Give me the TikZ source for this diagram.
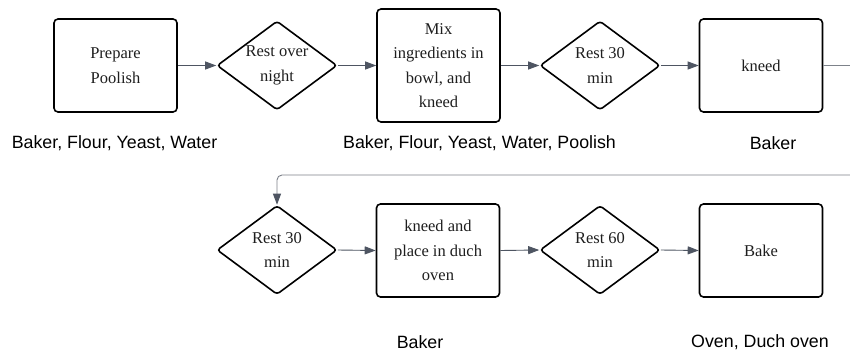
\documentclass[tikz,border=0pt]{standalone}
\usepackage{fontspec}
\setmainfont{Liberation Serif}
\newfontfamily\labfont{Liberation Sans}
\usetikzlibrary{shapes.geometric,arrows.meta}
\definecolor{linec}{RGB}{78,85,98}
\definecolor{retc}{RGB}{125,130,138}
\definecolor{txtc}{RGB}{30,30,30}
\tikzset{
  stepbox/.style={draw=black, line width=1.6pt, rounded corners=4pt, minimum width=123pt, minimum height=93pt,
    align=center, text=txtc, font=\fontsize{16.5}{24.5}\selectfont, inner sep=0pt},
  decide/.style={draw=black, line width=1.6pt, shape=diamond, rounded corners=3pt, minimum width=120pt, minimum height=89pt, inner sep=0pt},
  dtext/.style={align=center, text=txtc, font=\fontsize{16.5}{24.5}\selectfont, inner sep=0pt},
  reslabel/.style={font=\labfont\fontsize{17.8}{20}\selectfont, text=black, inner sep=0pt},
  conn/.style={draw=linec, line width=0.9pt, -{Triangle[length=11pt,width=8pt]}},
  retconn/.style={draw=retc, line width=0.9pt, rounded corners=5pt, -{Triangle[length=11pt,width=8pt,color=linec]}}
}
\begin{document}
\begin{tikzpicture}[x=1pt,y=-1pt]
\useasboundingbox[fill=white] (0,0) rectangle (850,353);
% row 1
\node[stepbox] (prep) at (115.5,65.5) {Prepare\\Poolish};
\node[decide, label={[dtext]center:Rest over\\night}] (rest1) at (277,65.5) {};
\node[stepbox, minimum height=113pt] (mix) at (438.5,65.5) {Mix\\ingredients in\\bowl, and\\kneed};
\node[decide, label={[dtext]center:Rest 30\\min}] (rest2) at (600,65.5) {};
\node[stepbox] (kneed) at (761,65.5) {kneed};
% row 2
\node[decide, label={[dtext]center:Rest 30\\min}] (rest3) at (277,250) {};
\node[stepbox] (place) at (438,250.5) {kneed and\\place in duch\\oven};
\node[decide, label={[dtext]center:Rest 60\\min}] (rest4) at (600,250) {};
\node[stepbox] (bake) at (761,250.5) {Bake};
% resource labels
\node[reslabel] (l1) at (114.5,143) {Baker, Flour, Yeast, Water};
\node[reslabel] (l2) at (479.5,143) {Baker, Flour, Yeast, Water, Poolish};
\node[reslabel] (l3) at (773,143) {Baker};
\node[reslabel] (l4) at (420,342.5) {Baker};
\node[reslabel] (l5) at (760,342.5) {Oven, Duch oven};
% connectors
\draw[conn] (prep.east) -- (rest1.west);
\draw[conn] (rest1.east) -- (mix.west);
\draw[conn] (mix.east) -- (rest2.west);
\draw[conn] (rest2.east) -- (kneed.west);
\draw[conn] (rest3.east) -- (place.west);
\draw[conn] (place.east) -- (rest4.west);
\draw[conn] (rest4.east) -- (bake.west);
\coordinate (out1) at (880,65.5);
\coordinate (out2) at (880,175);
\coordinate (back) at (277,175);
\draw[retconn] (kneed.east) -- (out1) -- (out2) -- (back) -- (rest3.north);
\end{tikzpicture}
\end{document}
